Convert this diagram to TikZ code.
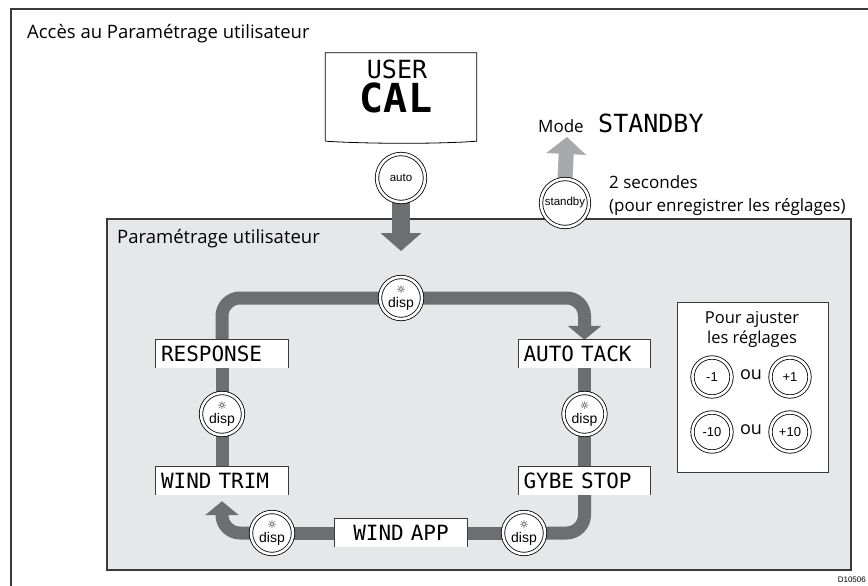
\documentclass[tikz,border=0pt]{standalone}
\usepackage{fontspec}
\setmainfont{Open Sans}
\newfontfamily\arialf{Liberation Sans}
\newfontfamily\lcdf{DejaVu Sans Mono}
\newfontfamily\symf{DejaVu Sans}
\usetikzlibrary{arrows.meta}
\pgfdeclarelayer{bgl}
\pgfdeclarelayer{linel}
\pgfsetlayers{bgl,linel,main}
\definecolor{boxgray}{HTML}{E6E7E8}
\definecolor{loopgray}{HTML}{6D6E71}
\definecolor{lightarrow}{HTML}{A7A9AC}
\definecolor{framegray}{HTML}{3A3A3A}
\newcommand\threeside[1]{\draw[framegray, line width=0.9pt] (#1.south west) |- (#1.north east) -- (#1.south east);}
\newcommand\dispc{{\symf\fontsize{10.5}{10.5}\selectfont ☼}\\[1.5pt]disp}
\begin{document}
\begin{tikzpicture}[x=1pt,y=-1pt,
  txt/.style={font=\fontsize{17}{17}\selectfont, inner sep=0pt},
  bigtxt/.style={font=\fontsize{18.5}{18.5}\selectfont, inner sep=0pt},
  btn/.style={circle, draw=black, line width=0.8pt, double=white, double distance=2.6pt, fill=white, inner sep=0pt, font=\arialf},
  dispbtn/.style={btn, minimum size=42pt, align=center, font=\arialf\fontsize{14}{12}\selectfont},
  bigbtn/.style={btn, minimum size=48pt, font=\arialf\fontsize{11.5}{11.5}\selectfont},
  adjbtn/.style={btn, minimum size=39pt, font=\arialf\fontsize{13}{13}\selectfont},
  strip/.style={fill=white, minimum height=28pt, inner ysep=0pt, inner xsep=5pt, text width=122pt, font=\lcdf\fontsize{21}{21}\selectfont},
  loopline/.style={draw=loopgray, line width=13pt},
  looptip/.style={-{Triangle[width=33pt,length=14pt]}}
]
\useasboundingbox (0,0) rectangle (868,586);
\begin{pgfonlayer}{bgl}
\fill[white] (0,0) rectangle (868,586);
\draw[fill=boxgray, draw=framegray, line width=1.2pt] (107,219) rectangle (851,570);
\end{pgfonlayer}
% outer frame
\draw[framegray, line width=1.2pt] (11,586) -- (11,9) -- (868,9);
\node[bigtxt, anchor=base west] (title) at (27,39) {Accès au Paramétrage utilisateur};
% LCD
\node[minimum width=151pt, minimum height=88pt, inner sep=0pt] (lcd) at (401,97) {};
\draw[fill=white, line width=0.8pt] (lcd.south west) -- (lcd.north west) -- (lcd.north east) -- (lcd.south east) .. controls (440,144) and (370,144) .. (lcd.south west);
\node[font=\lcdf\fontsize{25}{25}\selectfont, inner sep=0pt] (user) at (397,69) {USER};
\node[font=\lcdf\bfseries\fontsize{40}{40}\selectfont, inner sep=0pt] (cal) at (396,98) {CAL};
% buttons auto / standby
\node[bigbtn] (auto) at (401,178) {auto};
\node[bigbtn] (stby) at (565,203) {standby};
\node[txt, anchor=base west] (mode) at (538,132) {Mode};
\node[anchor=base west, inner sep=0pt, font=\lcdf\fontsize{25}{25}\selectfont] (stbytxt) at (598,132) {STANDBY};
\coordinate (modetip) at (567,137);
\node[txt, anchor=base west] (sec) at (609,188) {2 secondes};
\node[txt, anchor=base west] (pour) at (609,211) {(pour enregistrer les réglages)};
% gray box label
\node[bigtxt, anchor=base west] (plabel) at (117,243) {Paramétrage utilisateur};
\coordinate (downtip) at (401,251);
% loop nodes
\node[dispbtn] (topdisp) at (401,298) {\dispc};
\node[strip] (resp) at (222,354) {RESPONSE};
\node[dispbtn] (ldisp) at (222,414) {\dispc};
\node[strip] (wtrim) at (222,481) {WIND TRIM};
\node[dispbtn] (bldisp) at (272,533) {\dispc};
\node[strip, align=center] (wapp) at (401,533) {WIND APP};
\node[dispbtn] (brdisp) at (524,533) {\dispc};
\node[strip] (gybe) at (584.5,481) {GYBE STOP};
\node[dispbtn] (rdisp) at (584.5,414) {\dispc};
\node[strip] (autot) at (584.5,354) {AUTO TACK};
\threeside{resp}
\threeside{wtrim}
\threeside{wapp}
\threeside{gybe}
\threeside{autot}
% connectors
\begin{pgfonlayer}{linel}
\draw[line width=18pt, loopgray, -{Triangle[width=40pt,length=18pt]}] (auto.south) -- (downtip);
\draw[line width=15pt, lightarrow, -{Triangle[width=39pt,length=17pt]}] (stby.north) -- (modetip);
\draw[loopline, rounded corners=18pt] (resp.north) |- (topdisp.west);
\draw[loopline, looptip, rounded corners=18pt] (topdisp.east) -| (autot.north);
\draw[loopline] (autot.south) -- (gybe.north);
\draw[loopline, rounded corners=18pt] (gybe.south) |- (brdisp.east);
\draw[loopline] (brdisp.west) -- (bldisp.east);
\draw[loopline, looptip, rounded corners=18pt, shorten >=6pt] (bldisp.west) -| (wtrim.south);
\draw[loopline] (wtrim.north) -- (resp.south);
\end{pgfonlayer}
% adjust box
\node[draw=framegray, fill=white, line width=1pt, minimum width=151pt, minimum height=170pt, inner sep=0pt] (adj) at (752.5,387) {};
\node[font=\fontsize{16.5}{20}\selectfont, align=center, inner sep=0pt] (adjtxt) at (752,329) {Pour ajuster\\les réglages};
\node[adjbtn] (m1) at (712,377) {-1};
\node[adjbtn] (p1) at (790,377) {+1};
\node[adjbtn] (m10) at (712,432) {-10};
\node[adjbtn] (p10) at (790,432) {+10};
\node[font=\fontsize{18}{18}\selectfont, inner sep=0pt] (ou1) at (751,375) {ou};
\node[font=\fontsize{18}{18}\selectfont, inner sep=0pt] (ou2) at (751,430) {ou};
\node[anchor=base east, inner sep=0pt, font=\arialf\fontsize{8}{8}\selectfont] (dref) at (866,582) {D10506};
\end{tikzpicture}
\end{document}
